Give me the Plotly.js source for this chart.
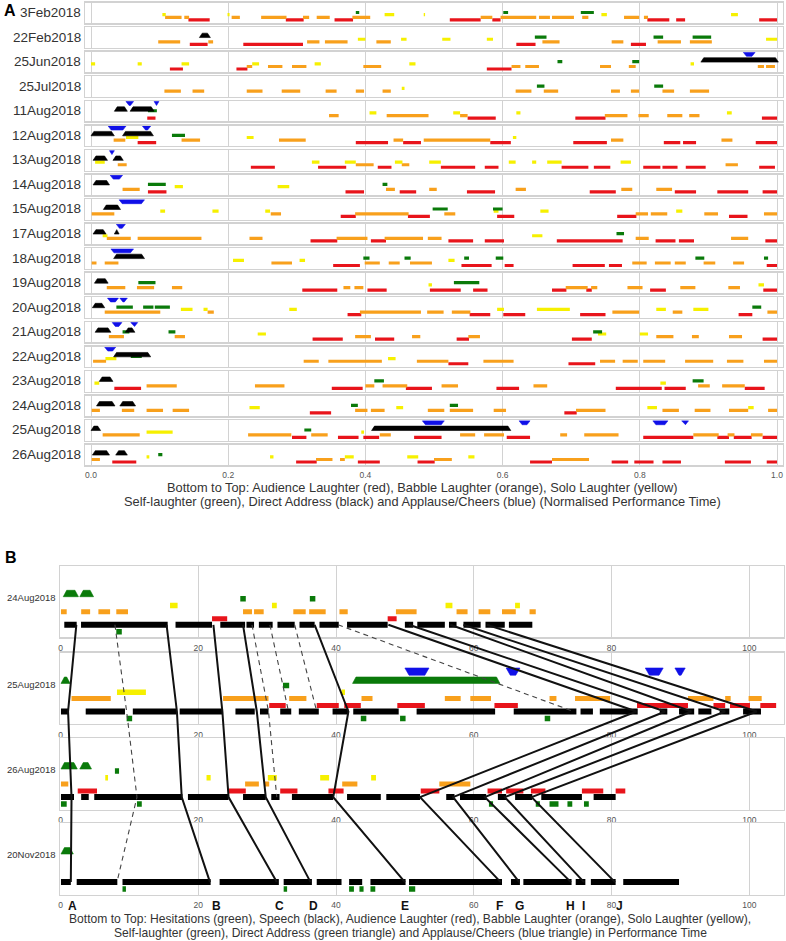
<!DOCTYPE html>
<html><head><meta charset="utf-8">
<script src="https://cdn.plot.ly/plotly-3.0.1.min.js"></script>
<style>html,body{margin:0;padding:0;background:#fff}#chart{width:786px;height:941px}</style>
</head><body><div id="chart"></div>
<script>
// ---------------- Panel A data (normalised time, [start,end] pairs per row) ----------------
const rowsA = ['3Feb2018','22Feb2018','25Jun2018','25Jul2018','11Aug2018','12Aug2018','13Aug2018','14Aug2018','15Aug2018','17Aug2018','18Aug2018','19Aug2018','20Aug2018','21Aug2018','22Aug2018','23Aug2018','24Aug2018','25Aug2018','26Aug2018'];
const tickValsA = [0,0.2,0.4,0.6,0.8,1.0];
const tickTextA = ['0.0','0.2','0.4','0.6','0.8','1.0'];
const redA = [
 [0.142,0.173,0.284,0.310,0.355,0.382,0.523,0.568,0.585,0.597,0.811,0.843,0.853,0.866,0.974,1.0],
 [0.144,0.170,0.222,0.309,0.620,0.648,0.787,0.809],
 [0.115,0.134,0.212,0.228,0.577,0.613],
 [],
 [0.082,0.094,0.549,0.590,0.706,0.750,0.978,1.0],
 [0.068,0.095,0.386,0.433,0.455,0.481,0.582,0.612,0.703,0.752,0.835,0.859,0.863,0.882,0.969,1.0],
 [0.233,0.268,0.331,0.372,0.418,0.438,0.510,0.560,0.574,0.594,0.686,0.725,0.733,0.757,0.805,0.830,0.833,0.855,0.867,0.896,0.974,0.997],
 [0.083,0.110,0.371,0.398,0.450,0.474,0.548,0.589,0.727,0.765,0.851,0.882,0.913,0.958,0.979,1.0],
 [0.364,0.386,0.462,0.494,0.592,0.617,0.767,0.795,0.930,0.957],
 [0.320,0.359,0.408,0.430,0.521,0.557,0.574,0.602,0.679,0.775,0.823,0.852,0.857,0.879,0.983,1.0],
 [0.353,0.392,0.540,0.584,0.603,0.616,0.702,0.749,0.755,0.774,0.985,1.0],
 [0.308,0.359,0.403,0.431,0.494,0.539,0.557,0.578,0.672,0.693,0.722,0.730,0.815,0.838,0.980,1.0],
 [0.374,0.394,0.552,0.582,0.601,0.633,0.713,0.750,0.944,0.964],
 [0.323,0.367,0.414,0.442,0.533,0.551,0.701,0.730,0.979,1.0],
 [0.521,0.550,0.696,0.735],
 [0.034,0.073,0.351,0.396,0.459,0.497,0.591,0.624,0.765,0.832,0.836,0.867,0.953,0.982],
 [0.319,0.350,0.690,0.708],
 [0.293,0.314,0.360,0.390,0.397,0.420,0.471,0.511,0.606,0.640,0.805,0.878,0.913,0.930,0.937,0.963,0.979,1.0],
 [0.031,0.066,0.299,0.329,0.389,0.421,0.476,0.501,0.640,0.672,0.759,0.783,0.792,0.820,0.833,0.860,0.924,0.962,0.985,1.0]
];
const orangeA = [
 [0.108,0.132,0.136,0.143,0.205,0.217,0.248,0.285,0.309,0.318,0.329,0.348,0.381,0.407,0.568,0.585,0.597,0.649,0.653,0.669,0.672,0.704,0.716,0.725,0.777,0.799,0.806,0.812],
 [0.098,0.130,0.171,0.178,0.315,0.333,0.341,0.374,0.416,0.437,0.658,0.683,0.759,0.776,0.826,0.860,0.873,0.905],
 [0.227,0.235,0.258,0.279,0.293,0.314,0.397,0.423,0.613,0.626,0.633,0.653,0.742,0.758,0.784,0.794,0.972,0.981,0.984,0.997],
 [0.107,0.131,0.148,0.165,0.227,0.250,0.278,0.305,0.342,0.358,0.386,0.398,0.425,0.437,0.619,0.642,0.660,0.681,0.758,0.771,0.787,0.799,0.833,0.850,0.873,0.901],
 [0.347,0.361,0.431,0.492,0.538,0.549,0.749,0.782,0.798,0.813,0.840,0.862,0.872,0.887],
 [0.033,0.050,0.132,0.159,0.274,0.313,0.441,0.455,0.485,0.582,0.758,0.776,0.919,0.935],
 [0.039,0.052,0.386,0.412,0.453,0.464,0.925,0.943],
 [0.046,0.071,0.430,0.443,0.493,0.504,0.619,0.634,0.773,0.789,0.824,0.847],
 [0.001,0.034,0.262,0.277,0.385,0.463,0.515,0.531,0.794,0.812,0.816,0.840,0.894,0.914,0.981,1.0],
 [0.023,0.058,0.068,0.161,0.231,0.250,0.358,0.403,0.428,0.484,0.491,0.511,0.794,0.813,0.933,0.958],
 [0.001,0.008,0.020,0.040,0.263,0.293,0.399,0.421,0.434,0.450,0.465,0.497,0.789,0.810,0.822,0.845,0.851,0.867,0.893,0.910,0.936,0.952],
 [0.023,0.050,0.067,0.092,0.118,0.133,0.368,0.378,0.384,0.397,0.692,0.724,0.729,0.738,0.782,0.804,0.859,0.881,0.929,0.946],
 [0.020,0.101,0.170,0.179,0.392,0.481,0.490,0.514,0.526,0.553,0.760,0.799,0.848,0.862,0.986,1.0],
 [0.026,0.048,0.122,0.137,0.385,0.408,0.468,0.480,0.550,0.567,0.824,0.849,0.876,0.886,0.930,0.949],
 [0.003,0.022,0.310,0.332,0.346,0.424,0.475,0.521,0.572,0.616,0.742,0.764,0.775,0.797,0.805,0.837,0.866,0.907,0.927,0.951,0.981,1.0],
 [0.081,0.125,0.239,0.282,0.400,0.413,0.425,0.461,0.511,0.535,0.645,0.665,0.885,0.902,0.920,0.953],
 [0.001,0.013,0.045,0.063,0.081,0.105,0.119,0.143,0.385,0.403,0.408,0.428,0.491,0.515,0.523,0.557,0.587,0.605,0.707,0.750,0.833,0.857,0.880,0.903,0.930,0.958,0.987,1.0],
 [0.017,0.071,0.229,0.292,0.321,0.345,0.421,0.437,0.538,0.560,0.573,0.602,0.684,0.694,0.719,0.769,0.878,0.915,0.928,0.938,0.962,0.979],
 [0.001,0.013,0.328,0.352,0.363,0.370,0.500,0.526,0.672,0.726]
];
const yellowA = [
 [0.104,0.109,0.199,0.202,0.428,0.442,0.485,0.487,0.744,0.752,0.933,0.943],
 [0.389,0.400,0.452,0.460,0.512,0.524,0.577,0.586,0.984,1.0],
 [0.0,0.006,0.068,0.074,0.132,0.143,0.235,0.245,0.326,0.335,0.464,0.473,0.874,0.879],
 [0.453,0.457],
 [0.406,0.416,0.528,0.538,0.620,0.626,0.927,0.934],
 [0.051,0.069,0.227,0.237,0.615,0.620],
 [0.006,0.020,0.322,0.333,0.370,0.386,0.443,0.454,0.493,0.510,0.609,0.619,0.643,0.649,0.665,0.686,0.772,0.787],
 [0.122,0.134,0.272,0.289],
 [0.101,0.108,0.177,0.186,0.254,0.261,0.587,0.594,0.655,0.667,0.853,0.862],
 [0.017,0.024,0.643,0.658],
 [0.207,0.223,0.304,0.312,0.521,0.530],
 [0.492,0.497,0.973,0.981],
 [0.131,0.148,0.164,0.170,0.289,0.300,0.592,0.602,0.650,0.698,0.824,0.838,0.878,0.900],
 [0.243,0.255,0.739,0.751,0.800,0.812],
 [0.021,0.037,0.433,0.444],
 [0.005,0.012,0.830,0.838],
 [0.231,0.246,0.445,0.455,0.811,0.825,0.958,0.966],
 [0.081,0.119,0.394,0.398],
 [0.081,0.085,0.261,0.266,0.370,0.383,0.461,0.477,0.550,0.559]
];
const greenA = [
 [0.386,0.391,0.601,0.608,0.714,0.733],
 [0.647,0.664,0.820,0.834,0.877,0.904],
 [0.680,0.687,0.789,0.799],
 [0.650,0.661,0.821,0.834],
 [0.083,0.096],
 [0.118,0.137],
 [],
 [0.083,0.109,0.425,0.432],
 [0.498,0.520,0.586,0.600],
 [0.766,0.777],
 [0.397,0.406,0.457,0.466,0.544,0.551,0.590,0.601,0.881,0.894,0.981,0.987],
 [0.069,0.094,0.529,0.566],
 [0.037,0.061,0.076,0.091,0.093,0.115,0.964,0.977],
 [0.046,0.056,0.113,0.123,0.732,0.745],
 [0.058,0.074],
 [0.413,0.427,0.877,0.893],
 [0.379,0.389,0.523,0.535],
 [0.311,0.321],
 [0.098,0.104]
];
const blackA = [
 [],[0.158,0.174],[0.889,1.002],[],
 [0.034,0.053,0.057,0.092],
 [0.0,0.034,0.046,0.091],
 [0.003,0.024,0.032,0.047],
 [0.003,0.027],
 [0.018,0.043],
 [0.003,0.022,0.034,0.041],
 [0.033,0.078],
 [0.005,0.025],
 [0.002,0.020],
 [0.006,0.029,0.050,0.064],
 [0.033,0.087],
 [0.012,0.032],
 [0.008,0.035,0.042,0.065],
 [0.0,0.014,0.409,0.612],
 [0.002,0.027,0.036,0.053]
];
const blueA = [
 [],[],[0.951,0.968],[],
 [0.051,0.062,0.092,0.099],
 [0.025,0.051,0.075,0.087],
 [0.027,0.034],
 [0.028,0.046],
 [0.041,0.078],
 [0.037,0.050],
 [0.029,0.062],
 [],
 [0.024,0.040,0.042,0.053],
 [0.031,0.045,0.058,0.068],
 [0.020,0.036],
 [],[],
 [0.483,0.515,0.624,0.640,0.819,0.841,0.861,0.871],
 []
];

// ---------------- Panel B data (performance time, [start,end] pairs per row) ----------------
const rowsB = ['24Aug2018','25Aug2018','26Aug2018','20Nov2018'];
const tickValsB = [0,20,40,60,80,100];
const hesB = [
 [8.1,8.9],
 [9.6,10.4,43.6,44.4,49.3,50.1,70.3,71.1],
 [0.07,0.9,11.1,11.8,62.2,62.8,69.0,69.6,71.0,72.3,73.6,74.3,76.0,76.7],
 [9.0,9.5,32.4,32.9,41.9,42.6,43.4,44.0,45.0,45.7,50.6,51.5]
];
const speechB = [
 [0.55,2.35,2.98,15.56,16.7,22.0,23.2,26.8,27.0,28.1,28.8,30.8,31.5,34.0,34.7,36.9,37.6,40.4,41.6,47.5,50.0,51.2,51.8,55.8,56.4,57.5,58.5,61.0,61.7,64.5,65.1,68.5],
 [0.07,1.13,3.66,9.36,10.5,16.8,17.3,23.6,25.4,28.2,28.96,30.2,31.9,33.5,34.6,37.5,39.5,41.8,42.5,49.1,51.7,63.1,65.8,74.9,75.5,77.3,78.3,83.8,87.0,88.1,89.8,92.0,92.6,94.5,95.7,97.1,99.1,101.7],
 [0.07,1.96,3.0,4.1,4.9,17.7,18.5,24.4,26.5,29.8,30.6,31.8,33.6,39.6,41.6,46.5,47.3,52.2,56.0,57.2,58.0,61.8,63.5,64.7,66.0,68.5,69.8,75.7,77.4,80.6],
 [0.07,1.5,2.35,8.25,9.0,21.8,23.1,31.7,32.4,36.5,37.2,40.8,41.9,43.8,45.0,50.1,50.6,64.1,65.4,66.7,67.2,74.2,74.8,76.2,77.0,80.6,81.7,89.8]
];
const redB = [
 [22.0,24.2,47.5,48.8],
 [30.3,32.7,37.2,40.4,41.2,43.6,48.9,52.9,63.0,66.4,83.7,91.1,94.8,96.5,97.2,100.1,101.6,103.9],
 [2.5,5.3,24.4,26.9,31.9,34.4,38.9,41.1,52.3,55.0,62.0,64.1,64.7,67.2,68.3,70.4,75.7,78.8,80.6,82.0],
 []
];
const orangeB = [
 [0.07,0.9,3.0,4.3,5.5,7.2,8.1,9.8,26.5,27.8,28.1,29.5,33.8,35.6,36.1,38.5,40.5,41.7,48.7,51.7,57.5,59.1,60.7,62.4,64.1,66.1,68.1,69.0],
 [1.6,7.3,23.6,30.2,33.2,35.7,43.7,45.3,55.8,58.1,59.5,62.5,71.0,72.0,74.7,79.8,91.1,94.8,96.5,97.3,99.9,101.8],
 [0.07,1.13,26.8,28.8,29.6,30.3,40.9,43.1,55.0,59.5],
 []
];
const yellowB = [
 [15.9,17.0,30.7,31.4,55.9,56.9,66.0,66.7],
 [8.2,12.4,40.8,41.3],
 [6.5,6.9,21.2,21.8,30.1,31.4,37.7,39.0,45.1,45.8],
 []
];
const selfB = [
 [26.1,26.9,36.2,37.0],
 [32.3,33.2],
 [7.9,8.5],
 []
];
const directB = [
 [0.4,2.6,2.8,4.8],
 [0.07,1.4,42.4,63.8],
 [0.07,2.44,2.8,4.5],
 [0.07,1.86]
];
const applauseB = [
 [],
 [50.0,53.5,64.7,66.7,84.9,87.5,89.2,90.7],
 [],
 []
];
// alignment links: position of the same material in each of the 4 performances (null = not linked)
const solidLinks = [
 [2.3,1.1,1.6,1.5],
 [15.4,16.9,17.6,21.7],
 [22.2,23.5,24.4,31.4],
 [26.5,28.5,29.8,36.3],
 [36.9,41.8,39.6,50.0],
 [47.6,83.6,52.2,63.9],
 [50.6,87.8,57.0,66.6],
 [56.6,91.6,61.6,74.1],
 [58.5,96.5,64.5,76.0],
 [61.9,101.1,68.4,80.5]
];
const dashedLinks = [
 [7.9,9.6,11.1,8.2],
 [27.8,30.2,31.4,null],
 [30.4,33.1,null,null],
 [34.0,37.2,null,null],
 [40.3,74.5,null,null]
];
const linkLabels = ['A','B','C','D','E','F','G','H','I','J'];
const linkLabelX = [1.7,22.7,31.8,36.7,50.0,63.8,66.6,74.1,76.0,81.1];

// ---------------- styling / geometry ----------------
const W = 786, H = 941;
const C = {red:'#e8141b', orange:'#f8a01c', yellow:'#f6f000', green:'#0a7a0a', black:'#000000', blue:'#1010e8'};
const FONT = 'Liberation Sans, Arial, sans-serif';
const GRID = '#d2d2d2';
const py = p => 1 - p / H;
const pxf = p => p / W;
const ax = n => (n === 1 ? '' : String(n));

const A_TOP0 = 2.7, A_PITCH = 24.56, A_H = 20.5;
const A_RANGE = [-0.00875, 1.008];
const B_TOPS = [566, 652.7, 738.3, 823.3], B_H = 71.3;
const B_RANGE = [-0.073, 105.04];

function bars(segs, y) {
  const x = [], yy = [];
  for (let k = 0; k < segs.length; k += 2) { x.push(segs[k], segs[k + 1], null); yy.push(y, y, null); }
  return {x, y: yy};
}
function traps(segs, yWide, yNarrow, sl) {
  const x = [], yy = [];
  for (let k = 0; k < segs.length; k += 2) {
    const s = segs[k], e = segs[k + 1], d = Math.min(sl, (e - s) / 2);
    x.push(s, s + d, e - d, e, s, null); yy.push(yWide, yNarrow, yNarrow, yWide, yWide, null);
  }
  return {x, y: yy};
}

const traces = [];
const layout = {
  width: W, height: H, margin: {l: 0, r: 0, t: 0, b: 0},
  paper_bgcolor: '#ffffff', plot_bgcolor: 'rgba(0,0,0,0)', showlegend: false,
  font: {family: FONT, color: '#333'}, annotations: []
};

function addBar(n, segs, y, color, w) {
  if (!segs.length) return;
  const d = bars(segs, y);
  traces.push({type: 'scatter', mode: 'lines', x: d.x, y: d.y, xaxis: 'x' + ax(n), yaxis: 'y' + ax(n),
    line: {color, width: w}, hoverinfo: 'skip', connectgaps: false});
}
function addTrap(n, segs, yW, yN, sl, color) {
  if (!segs.length) return;
  const d = traps(segs, yW, yN, sl);
  traces.push({type: 'scatter', mode: 'lines', x: d.x, y: d.y, xaxis: 'x' + ax(n), yaxis: 'y' + ax(n),
    fill: 'toself', fillcolor: color, line: {color, width: 0.6}, hoverinfo: 'skip', connectgaps: false});
}

// ---------- Panel A ----------
rowsA.forEach((name, i) => {
  const n = i + 1;
  const top = A_TOP0 + i * A_PITCH, bot = top + A_H;
  layout['xaxis' + ax(n)] = {
    domain: [pxf(85), pxf(782.5)], range: A_RANGE, anchor: 'y' + ax(n),
    showgrid: true, gridcolor: GRID, gridwidth: 1, zeroline: true, zerolinecolor: GRID, zerolinewidth: 1,
    showline: true, mirror: true, linecolor: GRID, linewidth: 1.4,
    tickvals: tickValsA, ticktext: tickTextA, showticklabels: i === rowsA.length - 1,
    ticks: 'outside', ticklen: 1.5, tickcolor: 'rgba(0,0,0,0)', tickfont: {size: 8.5, color: '#555', family: FONT}, fixedrange: true
  };
  layout['yaxis' + ax(n)] = {
    domain: [py(bot), py(top)], range: [0, A_H], anchor: 'x' + ax(n),
    showgrid: false, zeroline: false, showline: true, mirror: true, linecolor: GRID, linewidth: 1.4,
    showticklabels: false, ticks: '', fixedrange: true
  };
  addBar(n, redA[i], 3.3, C.red, 3.2);
  addBar(n, orangeA[i], 5.8, C.orange, 3.2);
  addBar(n, yellowA[i], 8.5, C.yellow, 3.2);
  addBar(n, greenA[i], 10.7, C.green, 3.2);
  addTrap(n, blackA[i], 10.2, 14.6, 0.0042, C.black);
  addTrap(n, blueA[i], 19.9, 16.0, 0.0045, C.blue);
  layout.annotations.push({xref: 'paper', yref: 'paper', x: pxf(83), y: py(top + A_H / 2 - 0.5),
    xanchor: 'right', yanchor: 'middle', text: name, showarrow: false, font: {size: 13.5, color: '#333', family: FONT}});
});
layout.annotations.push({xref: 'paper', yref: 'paper', x: pxf(2), y: py(11), xanchor: 'left', yanchor: 'middle',
  text: '<b>A</b>', showarrow: false, font: {size: 16, color: '#000', family: FONT}});
layout.annotations.push({xref: 'paper', yref: 'paper', x: pxf(423), y: py(487.5), xanchor: 'center', yanchor: 'middle',
  text: 'Bottom to Top: Audience Laughter (red), Babble Laughter (orange), Solo Laughter (yellow)',
  showarrow: false, font: {size: 12.8, color: '#333', family: FONT}});
layout.annotations.push({xref: 'paper', yref: 'paper', x: pxf(423), y: py(502), xanchor: 'center', yanchor: 'middle',
  text: 'Self-laughter (green), Direct Address (black) and Applause/Cheers (blue) (Normalised Performance Time)',
  showarrow: false, font: {size: 12.8, color: '#333', family: FONT}});

// ---------- Panel B ----------
const B_LEVEL = {hes: 5.6, speech: 12.5, red: 18.5, orange: 25.6, yellow: 31.8, self: 38.5};
rowsB.forEach((name, j) => {
  const n = 20 + j;
  const top = B_TOPS[j], bot = top + B_H;
  layout['xaxis' + n] = {
    domain: [pxf(60), pxf(784)], range: B_RANGE, anchor: 'y' + n,
    showgrid: true, gridcolor: GRID, gridwidth: 1, zeroline: true, zerolinecolor: GRID, zerolinewidth: 1,
    showline: true, mirror: true, linecolor: GRID, linewidth: 1.4,
    tickvals: tickValsB, showticklabels: true, ticks: 'outside', ticklen: 2, tickcolor: 'rgba(0,0,0,0)',
    tickfont: {size: 8.5, color: '#555', family: FONT}, fixedrange: true
  };
  layout['yaxis' + n] = {
    domain: [py(bot), py(top)], range: [0, B_H], anchor: 'x' + n,
    showgrid: false, zeroline: false, showline: true, mirror: true, linecolor: GRID, linewidth: 1.4,
    showticklabels: false, ticks: '', fixedrange: true
  };
  addBar(n, hesB[j], B_LEVEL.hes, C.green, 5.5);
  addBar(n, speechB[j], B_LEVEL.speech, C.black, 6);
  addBar(n, redB[j], B_LEVEL.red, C.red, 5);
  addBar(n, orangeB[j], B_LEVEL.orange, C.orange, 5);
  addBar(n, yellowB[j], B_LEVEL.yellow, C.yellow, 5.5);
  addBar(n, selfB[j], B_LEVEL.self, C.green, 5.5);
  addTrap(n, directB[j], 40.6, 47.0, 0.5, C.green);
  addTrap(n, applauseB[j], 56.0, 48.8, 0.6, C.blue);
  layout.annotations.push({xref: 'paper', yref: 'paper', x: pxf(57.5), y: py(top + 31.5),
    xanchor: 'right', yanchor: 'middle', text: name, showarrow: false, font: {size: 9.5, color: '#333', family: FONT}});
});
layout.annotations.push({xref: 'paper', yref: 'paper', x: pxf(3), y: py(557), xanchor: 'left', yanchor: 'middle',
  text: '<b>B</b>', showarrow: false, font: {size: 16, color: '#000', family: FONT}});
layout.annotations.push({xref: 'paper', yref: 'paper', x: pxf(410), y: py(918.5), xanchor: 'center', yanchor: 'middle',
  text: 'Bottom to Top: Hesitations (green), Speech (black), Audience Laughter (red), Babble Laughter (orange), Solo Laughter (yellow),',
  showarrow: false, font: {size: 12.1, color: '#333', family: FONT}});
layout.annotations.push({xref: 'paper', yref: 'paper', x: pxf(410), y: py(932.5), xanchor: 'center', yanchor: 'middle',
  text: 'Self-laughter (green), Direct Address (green triangle) and Applause/Cheers (blue triangle) in Performance Time',
  showarrow: false, font: {size: 12.1, color: '#333', family: FONT}});

// overlay axes for the alignment links (y in pixels from top of the figure)
layout.xaxis24 = {domain: [pxf(60), pxf(784)], range: B_RANGE, anchor: 'y24', visible: false, fixedrange: true};
layout.yaxis24 = {domain: [0, 1], range: [H, 0], anchor: 'x24', visible: false, fixedrange: true};
const speechY = B_TOPS.map(t => t + B_H - B_LEVEL.speech);
function linkTrace(links, style) {
  const x = [], y = [];
  links.forEach(L => {
    L.forEach((v, r) => { if (v !== null) { x.push(v); y.push(speechY[r]); } });
    x.push(null); y.push(null);
  });
  return {type: 'scatter', mode: 'lines', x, y, xaxis: 'x24', yaxis: 'y24', line: style, hoverinfo: 'skip', connectgaps: false};
}
traces.push(linkTrace(dashedLinks, {color: '#444', width: 1.1, dash: '5px,4px'}));
traces.push(linkTrace(solidLinks, {color: '#111', width: 2}));
linkLabels.forEach((t, k) => {
  layout.annotations.push({xref: 'x24', yref: 'paper', x: linkLabelX[k], y: py(905.5), xanchor: 'center', yanchor: 'middle',
    text: '<b>' + t + '</b>', showarrow: false, font: {size: 12, color: '#111', family: FONT}});
});

Plotly.newPlot('chart', traces, layout, {staticPlot: true, displayModeBar: false});
</script>
</body></html>
